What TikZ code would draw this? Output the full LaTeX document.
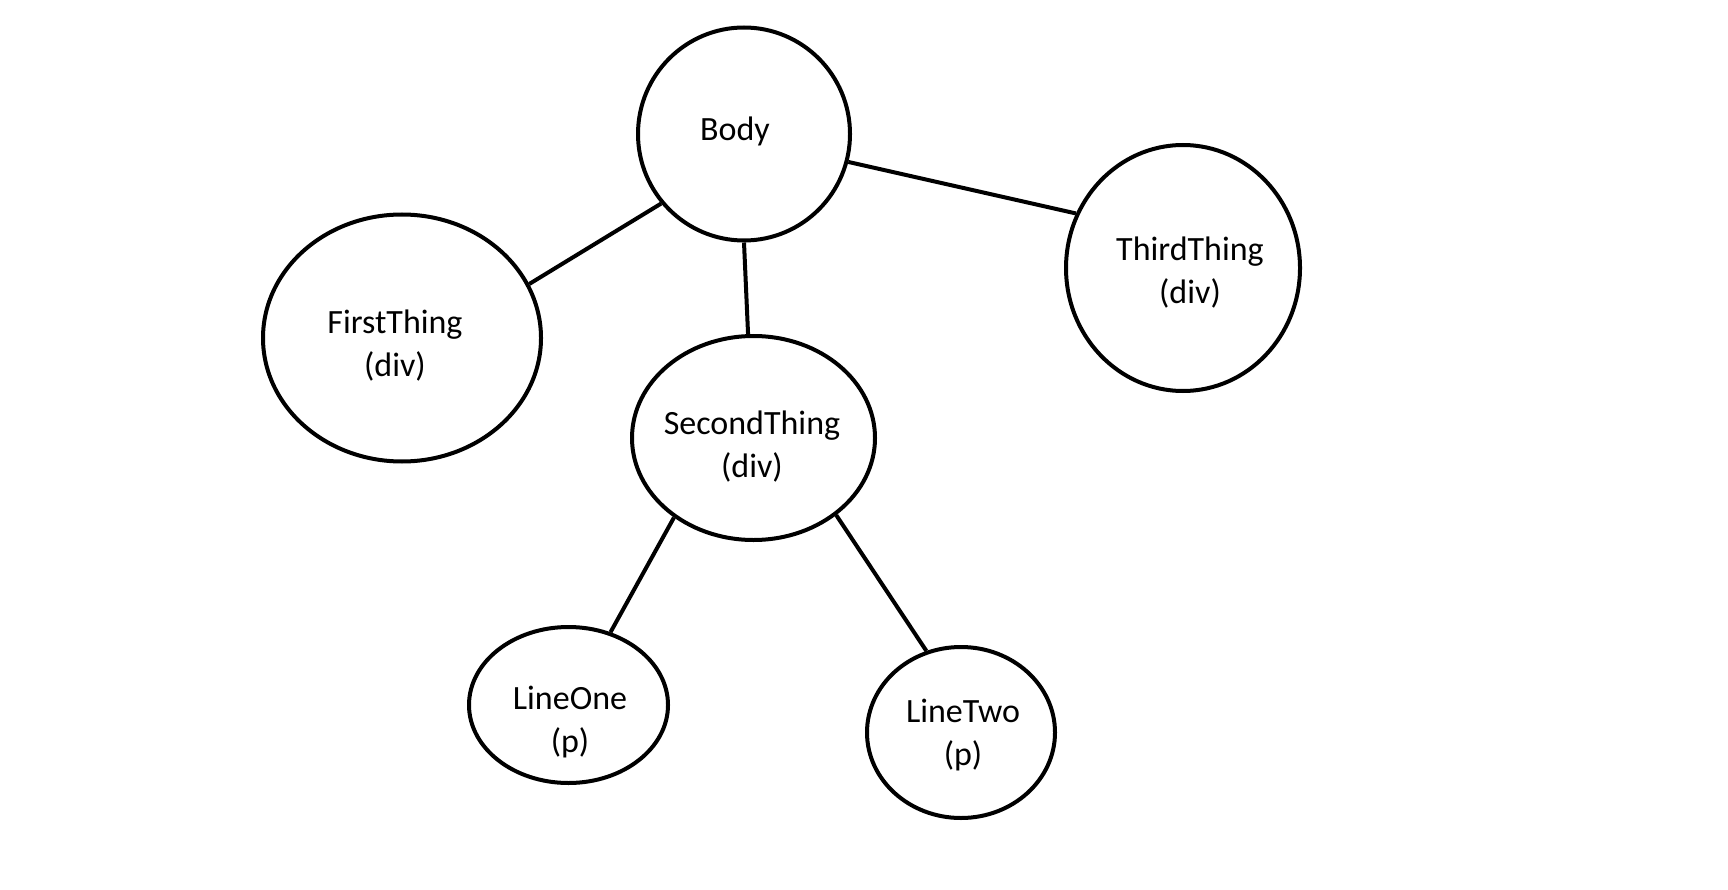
\documentclass[tikz,border=0pt]{standalone}
\usepackage{fontspec}
\setmainfont{Carlito}
\usetikzlibrary{shapes.geometric}

\begin{document}
\begin{tikzpicture}[x=1pt, y=-1pt, line width=4pt,
    blob/.style={ellipse, draw, inner sep=0pt},
    tag/.style={align=center, inner sep=0pt, font=\fontsize{34}{43}\selectfont}]
   \useasboundingbox (0,0) rectangle (1728,890);
   \node[blob, minimum width=212, minimum height=213] (body)    at (744,134)   {};
   \node[blob, minimum width=278, minimum height=247] (first)   at (402,338)   {};
   \node[blob, minimum width=243, minimum height=204] (second)  at (753.5,438) {};
   \node[blob, minimum width=234, minimum height=246] (third)   at (1183,268)  {};
   \node[blob, minimum width=199, minimum height=156] (lineone) at (568.5,705) {};
   \node[blob, minimum width=188, minimum height=171] (linetwo) at (961,732.5) {};
   \node[tag] (body-t)    at (735,131.5) {Body};
   \node[tag] (first-t)   at (395,346)   {FirstThing\\(div)};
   \node[tag] (second-t)  at (752,447)   {SecondThing\\(div)};
   \node[tag] (third-t)   at (1190,273)  {ThirdThing\\(div)};
   \node[tag] (lineone-t) at (570,722)   {LineOne\\(p)};
   \node[tag] (linetwo-t) at (963,735)   {LineTwo\\(p)};
   \path (body.220)   edge (first.23)
         (body.270)   edge (second.93)
         (body.345)   edge (third.153)
         (second.225) edge (lineone.60)
         (second.317) edge (linetwo.113);
\end{tikzpicture}
\end{document}
